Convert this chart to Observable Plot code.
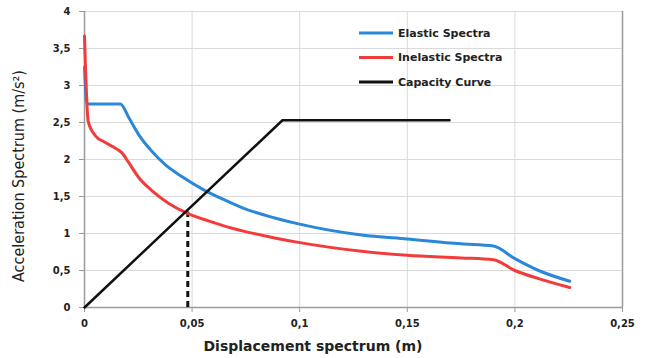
<!DOCTYPE html>
<html><head><meta charset="utf-8">
<script src="https://cdn.jsdelivr.net/npm/d3@7"></script>
<script src="https://cdn.jsdelivr.net/npm/@observablehq/plot@0.6"></script>
<style>
body{margin:0;background:#fff;}
#chart{position:relative;width:653px;height:358px;}
</style>
</head><body><div id="chart"></div>
<script>
// ---- data ----
const elasticSd = [0, 0.0012, 0.0167, 0.0205, 0.0251, 0.0313, 0.0375, 0.0452, 0.0554, 0.0653, 0.074, 0.0884, 0.0994, 0.1287, 0.15, 0.175, 0.19, 0.2, 0.211, 0.2255];
const elasticSa = [3.25, 2.75, 2.75, 2.57, 2.34, 2.11, 1.93, 1.77, 1.59, 1.45, 1.34, 1.21, 1.13, 0.98, 0.925, 0.86, 0.83, 0.66, 0.50, 0.355];
const inelasticSd = [0, 0.0017, 0.0051, 0.0097, 0.0151, 0.0174, 0.0205, 0.0251, 0.0313, 0.039, 0.0473, 0.0576, 0.0663, 0.0884, 0.0994, 0.1287, 0.15, 0.175, 0.19, 0.2, 0.211, 0.2255];
const inelasticSa = [3.67, 2.52, 2.32, 2.23, 2.14, 2.09, 1.96, 1.76, 1.58, 1.41, 1.28, 1.17, 1.09, 0.94, 0.88, 0.76, 0.705, 0.67, 0.645, 0.50, 0.39, 0.27];
const capacitySd = [0, 0.092, 0.1696];
const capacitySa = [0, 2.53, 2.53];
const performanceSd = 0.048;
const performanceSa = 1.29;
const xTicks = [0, 0.05, 0.1, 0.15, 0.2, 0.25];
const yTicks = [0, 0.5, 1, 1.5, 2, 2.5, 3, 3.5, 4];
const seriesNames = ["Elastic Spectra", "Inelastic Spectra", "Capacity Curve"];
const seriesColors = ["#2b87d8", "#f23b3b", "#111111"];
const xLabel = "Displacement spectrum (m)";
const yLabel = "Acceleration Spectrum (m/s²)";

const toRows = (xs, ys) => xs.map((x, i) => ({sd: x, sa: ys[i]}));
const elastic = toRows(elasticSd, elasticSa);
const inelastic = toRows(inelasticSd, inelasticSa);
const capacity = toRows(capacitySd, capacitySa);
const fmt = d => String(d).replace(".", ",");

const plot = Plot.plot({
  width: 653, height: 358,
  marginLeft: 84, marginRight: 31, marginTop: 11, marginBottom: 51,
  style: {fontFamily: "'DejaVu Sans', sans-serif", fontSize: "10px", background: "#fff", overflow: "visible"},
  x: {domain: [0, 0.25]},
  y: {domain: [0, 4]},
  marks: [
    Plot.gridX(xTicks, {stroke: "#dadada", strokeOpacity: 1}),
    Plot.gridY(yTicks, {stroke: "#dadada", strokeOpacity: 1}),
    Plot.ruleX([0, 0.25], {stroke: "#9a9a9a", strokeWidth: 1.5}),
    Plot.ruleY([0], {stroke: "#9a9a9a", strokeWidth: 1.5}),
    Plot.axisX(xTicks, {tickFormat: fmt, tickSize: 5, tickPadding: 7, fontWeight: "bold", stroke: "#9a9a9a", fill: "#222", label: null}),
    Plot.axisY(yTicks, {tickFormat: fmt, tickSize: 5, tickPadding: 9, fontWeight: "bold", stroke: "#9a9a9a", fill: "#222", label: null}),
    Plot.ruleX([performanceSd], {y1: 0, y2: performanceSa, stroke: "#111", strokeWidth: 3, strokeDasharray: "6,4"}),
    Plot.line(elastic, {x: "sd", y: "sa", stroke: seriesColors[0], strokeWidth: 3, curve: "monotone-x"}),
    Plot.line(inelastic, {x: "sd", y: "sa", stroke: seriesColors[1], strokeWidth: 3, curve: "monotone-x"}),
    Plot.line(capacity, {x: "sd", y: "sa", stroke: seriesColors[2], strokeWidth: 2.5})
  ]
});

const svg = d3.select(plot);
// axis titles
svg.append("text")
  .attr("x", 313).attr("y", 351)
  .attr("text-anchor", "middle")
  .attr("font-family", "'DejaVu Sans', sans-serif")
  .attr("font-weight", "bold").attr("font-size", 14).attr("fill", "#222")
  .text(xLabel);
svg.append("text")
  .attr("transform", "translate(24,176) rotate(-90)")
  .attr("text-anchor", "middle")
  .attr("font-family", "'Liberation Sans Narrow', 'DejaVu Sans Condensed', sans-serif")
  .attr("font-size", 16).attr("fill", "#222")
  .attr("textLength", 212).attr("lengthAdjust", "spacingAndGlyphs")
  .text(yLabel);
// legend
const lg = svg.append("g").attr("transform", "translate(359,33)");
seriesNames.forEach((name, i) => {
  const g = lg.append("g").attr("transform", `translate(0,${i * 24.5})`);
  g.append("line").attr("x1", 0).attr("x2", 34).attr("y1", 0).attr("y2", 0)
    .attr("stroke", seriesColors[i]).attr("stroke-width", 3);
  g.append("text").attr("x", 39).attr("y", 0).attr("dy", "0.35em")
    .attr("text-anchor", "start")
    .attr("font-family", "'DejaVu Sans', sans-serif")
    .attr("font-weight", "bold").attr("font-size", 11).attr("fill", "#222")
    .text(name);
});

document.getElementById("chart").appendChild(plot);
</script>
</body></html>
